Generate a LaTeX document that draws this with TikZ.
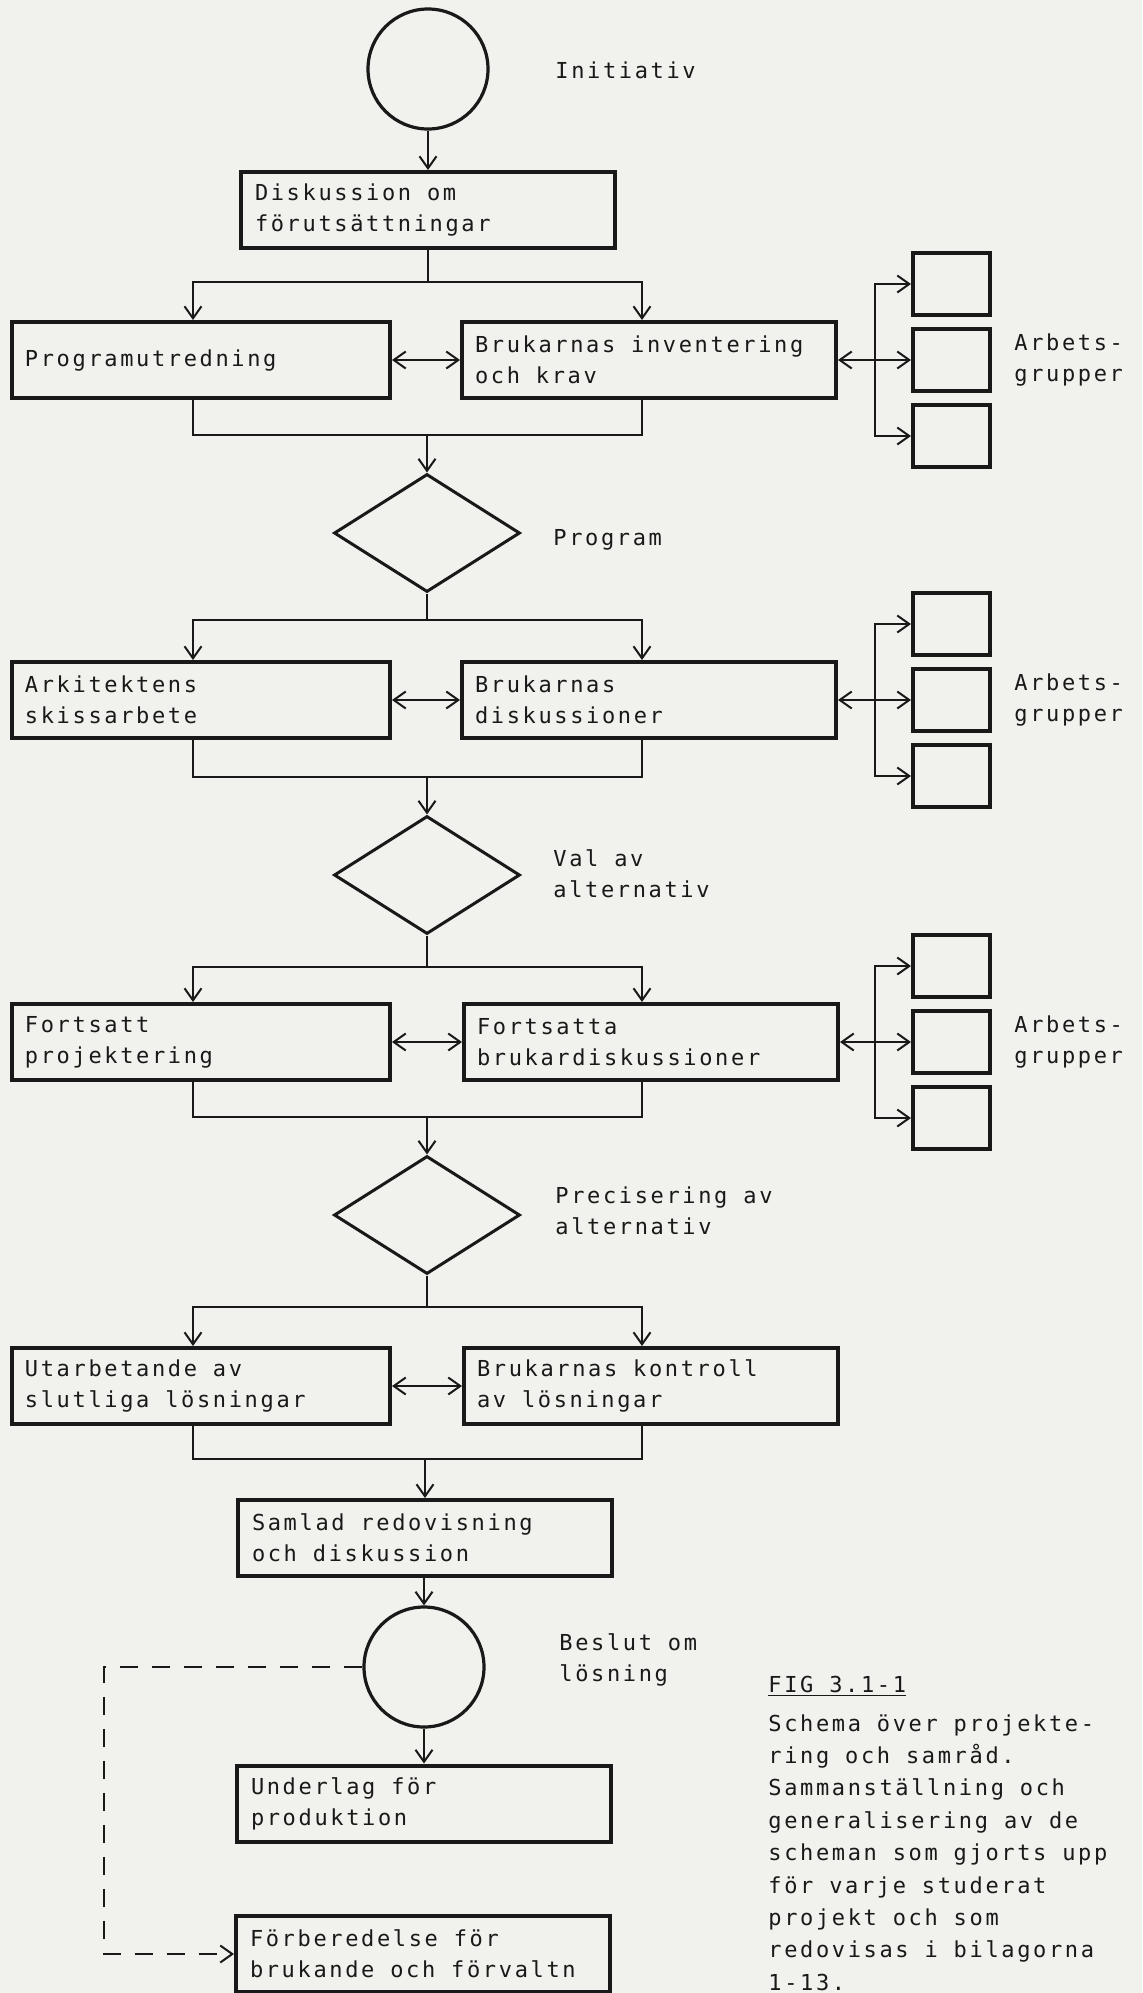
\documentclass[tikz,border=0pt]{standalone}
\usepackage{fontspec}
\setmonofont[LetterSpace=12]{DejaVu Sans Mono}
\usetikzlibrary{arrows.meta,shapes.geometric}
\definecolor{paper}{RGB}{241,241,237}
\definecolor{ink}{RGB}{25,25,25}
\tikzset{
  txt/.style={font=\ttfamily\fontsize{11}{15.6}\selectfont,text=ink},
  box/.style={txt,draw=ink,line width=2pt,minimum height=38pt,align=flush left,inner ysep=0pt},
  lbox/.style={box,minimum width=189pt,text width=176pt,inner xsep=6.5pt},
  rbox/.style={box,minimum width=187pt,text width=174pt,inner xsep=6.5pt},
  cbox/.style={box,minimum width=187pt,text width=173pt,inner xsep=7pt},
  gbox/.style={draw=ink,line width=2pt,minimum width=38.5pt,minimum height=31pt,inner sep=0pt},
  start/.style={draw=ink,circle,line width=1.6pt,minimum size=60pt,inner sep=0pt},
  decision/.style={draw=ink,diamond,line width=1.5pt,minimum width=93pt,minimum height=59pt,inner sep=0pt},
  lab/.style={txt,anchor=west,align=left,inner sep=0pt},
  line/.style={draw=ink,line width=1pt},
  arr/.style={line,-{Straight Barb[length=6pt,width=8.5pt]}},
  arr2/.style={line,{Straight Barb[length=6pt,width=8.5pt]}-{Straight Barb[length=6pt,width=8.5pt]}},
}
\begin{document}
\begin{tikzpicture}[x=0.5pt,y=-0.5pt]
\fill[paper] (0,0) rectangle (1142,1993);
\useasboundingbox (0,0) rectangle (1142,1993);

% start
\node[start] (ini) at (428,69) {};
\node[lab] (inil) at (555,70) {Initiativ};
\node[cbox] (disk) at (428,210) {Diskussion om\\förutsättningar};
\draw[arr] (ini) -- (disk);

% stage 1
\coordinate (s1) at (428,282);
\coordinate (m1) at (427,435);
\node[lbox] (prog) at (201,360) {Programutredning};
\node[rbox] (inv) at (649,360) {Brukarnas inventering\\och krav};
\draw[line] (disk) -- (s1);
\draw[arr] (s1) -| ([xshift=-4pt]prog.north);
\draw[arr] (s1) -| ([xshift=-3.5pt]inv.north);
\draw[arr2] (prog) -- (inv);
\draw[line] ([xshift=-4pt]prog.south) |- (m1) -| ([xshift=-3.5pt]inv.south);
\node[decision] (prg) at (427,533) {};
\node[lab] (prgl) at (553,540) {Program};
\draw[arr] (m1) -- (prg);

% stage 2
\coordinate (s2) at (427,620);
\coordinate (m2) at (427,777);
\node[lbox] (ark) at (201,700) {Arkitektens\\skissarbete};
\node[rbox] (disc) at (649,700) {Brukarnas\\diskussioner};
\draw[line] (prg) -- (s2);
\draw[arr] (s2) -| ([xshift=-4pt]ark.north);
\draw[arr] (s2) -| ([xshift=-3.5pt]disc.north);
\draw[arr2] (ark) -- (disc);
\draw[line] ([xshift=-4pt]ark.south) |- (m2) -| ([xshift=-3.5pt]disc.south);
\node[decision] (val) at (427,875) {};
\node[lab] (vall) at (553,874) {Val av\\alternativ};
\draw[arr] (m2) -- (val);

% stage 3
\coordinate (s3) at (427,967);
\coordinate (m3) at (427,1117);
\node[lbox] (proj) at (201,1042) {Fortsatt\\projektering};
\node[rbox] (fort) at (651,1042) {Fortsatta\\brukardiskussioner};
\draw[line] (val) -- (s3);
\draw[arr] (s3) -| ([xshift=-4pt]proj.north);
\draw[arr] (s3) -| ([xshift=-4.5pt]fort.north);
\draw[arr2] (proj) -- (fort);
\draw[line] ([xshift=-4pt]proj.south) |- (m3) -| ([xshift=-4.5pt]fort.south);
\node[decision] (prec) at (427,1215) {};
\node[lab] (precl) at (555,1211) {Precisering av\\alternativ};
\draw[arr] (m3) -- (prec);

% stage 4
\coordinate (s4) at (427,1307);
\coordinate (m4) at (425,1459);
\node[lbox] (utarb) at (201,1386) {Utarbetande av\\slutliga lösningar};
\node[rbox] (kontr) at (651,1386) {Brukarnas kontroll\\av lösningar};
\draw[line] (prec) -- (s4);
\draw[arr] (s4) -| ([xshift=-4pt]utarb.north);
\draw[arr] (s4) -| ([xshift=-4.5pt]kontr.north);
\draw[arr2] (utarb) -- (kontr);
\draw[line] ([xshift=-4pt]utarb.south) |- (m4) -| ([xshift=-4.5pt]kontr.south);

% arbetsgrupper
\foreach \n/\y/\b in {1/360/inv,2/700/disc,3/1042/fort}{
  \node[gbox] (ga\n) at (951.5,\y-76) {};
  \node[gbox] (gb\n) at (951.5,\y) {};
  \node[gbox] (gc\n) at (951.5,\y+76) {};
  \coordinate (gj\n) at (875,\y);
  \draw[arr2] (\b) -- (gb\n);
  \draw[arr] (gj\n) |- (ga\n.west);
  \draw[arr] (gj\n) |- (gc\n.west);
  \node[lab] (gl\n) at (1014,\y) {Arbets-\\grupper};
}

% beslut
\node[cbox] (saml) at (425,1538) {Samlad redovisning\\och diskussion};
\draw[arr] (m4) -- (saml);
\node[start] (besl) at (424,1667) {};
\node[lab] (besll) at (559,1660) {Beslut om\\lösning};
\draw[arr] (saml.south -| besl) -- (besl);
\node[cbox] (unde) at (424,1803.5) {Underlag för\\produktion};
\draw[arr] (besl) -- (unde);
\node[cbox] (forb) at (423,1954) {Förberedelse för\\brukande och förvaltn};
\coordinate (dc) at (104,1954);
\draw[arr,dash pattern=on 9pt off 7pt] (besl.west) -| (dc) -- (forb.west);

% caption
\node[lab] (fig) at (768,1686) {\underline{FIG 3.1-1}};
\node[txt,font=\ttfamily\fontsize{11}{16.2}\selectfont,anchor=north west,align=left,inner sep=0pt] (capt) at (768,1714)
  {Schema över projekte-\\ring och samråd.\\Sammanställning och\\generalisering av de\\scheman som gjorts upp\\för varje studerat\\projekt och som\\redovisas i bilagorna\\1-13.};
\end{tikzpicture}
\end{document}
